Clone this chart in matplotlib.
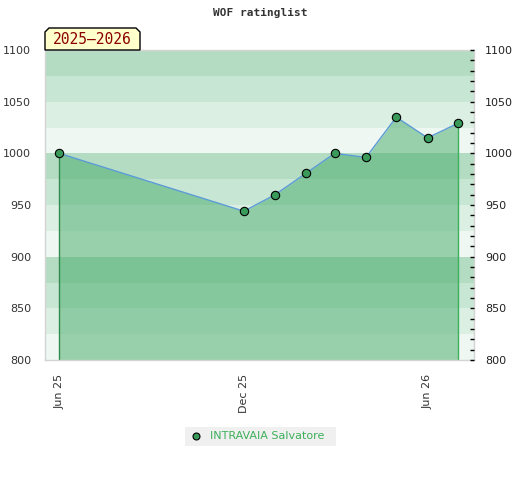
import matplotlib
matplotlib.use("Agg")
import matplotlib.pyplot as plt
import matplotlib.dates as mdates
from matplotlib.patches import Polygon
import numpy as np
import datetime as dt

dates = ["2025-06-01", "2025-12-01", "2026-01-01", "2026-02-01", "2026-03-01",
         "2026-04-01", "2026-05-01", "2026-06-01", "2026-07-01"]
ratings = [1000, 944, 960, 981, 1000, 996, 1035, 1015, 1029]
player = "INTRAVAIA Salvatore"
season = "2025\u20132026"
title = "WOF ratinglist"
xticks = ["2025-06-01", "2025-12-01", "2026-06-01"]
xticklabels = ["Jun 25", "Dec 25", "Jun 26"]
yticks = [800, 850, 900, 950, 1000, 1050, 1100]

d = [dt.datetime.fromisoformat(s) for s in dates]
fig = plt.figure(figsize=(5.2, 4.8), dpi=100)
ax = fig.add_axes([45/520, 1-360/480, 429/520, 310/480])

ymin, ymax = 800, 1100
band_cols = ["#eef7f1", "#dcefe3", "#c8e6d4", "#b3dcc3"]
for i, lo in enumerate(range(ymin, ymax, 25)):
    ax.axhspan(lo, lo+25, color=band_cols[i % 4], lw=0, zorder=0)

ax.fill_between(d, ratings, ymin, color="#45ab68", alpha=0.5, lw=0, zorder=1)
ax.vlines(d[0], ymin, ratings[0], color="#2f8a4c", lw=1, zorder=2)
ax.vlines(d[-1], ymin, ratings[-1], color="#3cb05a", lw=1, zorder=2)
ax.plot(d, ratings, color="#5b9bd5", lw=1, zorder=3)
ax.plot(d, ratings, ls="none", marker="o", ms=6, mfc="#3a9a5a", mec="black", mew=0.8, zorder=4)

ax.set_ylim(ymin, ymax)
ax.set_xlim(dt.datetime(2025, 5, 18), dt.datetime(2026, 7, 17))

ax.set_xticks([dt.datetime.fromisoformat(s) for s in xticks])
ax.set_xticklabels(xticklabels, rotation=90, fontsize=8, color="#333333")
ax.tick_params(axis="x", length=0, pad=10)
ax.set_yticks(yticks)
ax.set_yticklabels([str(v) for v in yticks], fontsize=8, color="#333333")
ax.tick_params(axis="y", left=False, length=0, pad=10)

for s in ax.spines.values():
    s.set_color("#d4d4d4")
    s.set_linewidth(1)

ax2 = ax.twinx()
ax2.set_ylim(ymin, ymax)
ax2.set_yticks(yticks)
ax2.set_yticklabels([str(v) for v in yticks], fontsize=8, color="#222222")
ax2.set_yticks(np.arange(ymin + 10, ymax, 10), minor=True)
ax2.tick_params(axis="y", which="both", direction="in", length=3, width=1, color="black", pad=8)
for s in ax2.spines.values():
    s.set_visible(False)

fig.text(260/520, 1-13/480, title, ha="center", va="center", fontsize=8,
         family="DejaVu Sans Mono", fontweight="bold", color="#333333")

# season label box with clipped corners
x0, x1, y0, y1, c = 45, 140, 28, 50, 4
pts = [(x0, y1), (x0, y0+c), (x0+c, y0), (x1-c, y0), (x1, y0+c), (x1, y1)]
pts = [(px/520, 1-py/480) for px, py in pts]
fig.patches.append(Polygon(pts, closed=True, transform=fig.transFigure,
                           facecolor="#ffffcc", edgecolor="black", lw=1, zorder=5))
fig.text(92/520, 1-40/480, season, ha="center", va="center", fontsize=10.5,
         family="DejaVu Sans Mono", color="#8b0000", zorder=6)

# legend
fig.patches.append(plt.Rectangle((185/520, 1-446/480), 151/520, 19/480,
                                 transform=fig.transFigure, facecolor="#f0f0f0",
                                 edgecolor="none", zorder=5))
fig.lines.append(plt.Line2D([196/520], [1-436/480], transform=fig.transFigure,
                            marker="o", ms=5, mfc="#3a9a5a", mec="black", mew=0.8, ls="none", zorder=6))
fig.text(210/520, 1-436/480, player, ha="left", va="center", fontsize=8,
         color="#3cb05a", zorder=6)

fig.savefig("out.png", dpi=100)
